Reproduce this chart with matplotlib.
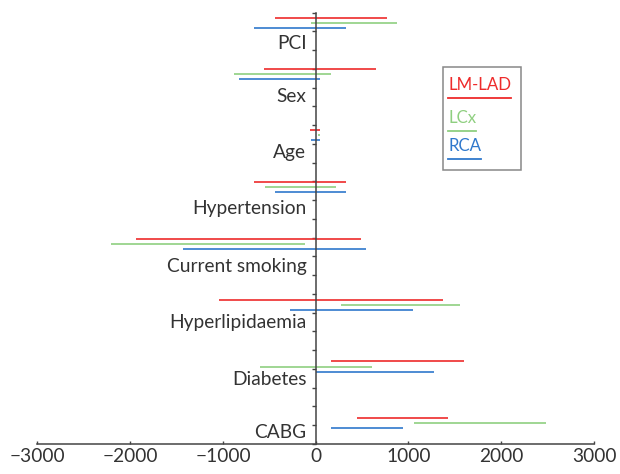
import matplotlib
matplotlib.use('Agg')
import matplotlib.pyplot as plt
from matplotlib.patches import Rectangle
from matplotlib.lines import Line2D

plt.rcParams['font.family'] = ['Lato', 'DejaVu Sans']

# data
categories = ['PCI', 'Sex', 'Age', 'Hypertension', 'Current smoking',
              'Hyperlipidaemia', 'Diabetes', 'CABG']
lm_lad_low = [-440, -560, -65, -665, -1940, -1040, 170, 450]
lm_lad_high = [770, 650, 45, 330, 485, 1375, 1600, 1430]
lcx_low = [-55, -885, 20, -550, -2210, 275, -600, 1060]
lcx_high = [880, 160, 45, 215, -120, 1555, 605, 2485]
rca_low = [-665, -825, -55, -440, -1435, -275, 5, 170]
rca_high = [325, 45, 45, 330, 545, 1050, 1270, 940]
series = ['LM-LAD', 'LCx', 'RCA']

# layout
row_y = [22.46, 19.73, 16.46, 13.70, 10.68, 7.40, 4.13, 1.10]
label_y = [21.38, 18.54, 15.55, 12.56, 9.47, 6.48, 3.44, 0.60]
gap = 0.27
colors = ['#ee2b2b', '#8fcf80', '#2f78cc']
txt_col = '#333333'

fig = plt.figure(figsize=(6.2, 4.74), dpi=100)
ax = fig.add_axes([0.0602, 0.0633, 0.898, 0.910])

lows = [lm_lad_low, lcx_low, rca_low]
highs = [lm_lad_high, lcx_high, rca_high]
for k in range(3):
    ys = [y + gap * (1 - k) for y in row_y]
    ax.hlines(ys, lows[k], highs[k], colors=colors[k], lw=1.2)

for name, y in zip(categories, label_y):
    ax.text(-100, y, name, ha='right', va='center', fontsize=13.8, color=txt_col)

ax.set_xlim(-3000, 3000)
ax.set_ylim(0, 23)
ax.spines['left'].set_position(('data', 0))
ax.spines['right'].set_visible(False)
ax.spines['top'].set_visible(False)
for s in ['left', 'bottom']:
    ax.spines[s].set_color('#444444')
    ax.spines[s].set_linewidth(1.1)
ax.set_xticks([-3000, -2000, -1000, 0, 1000, 2000, 3000])
ax.set_yticks(range(0, 24))
ax.set_yticklabels([])
ax.tick_params(axis='y', direction='out', length=3, width=1, color='#444444')
ax.tick_params(axis='x', direction='in', length=2.5, width=1, color='#444444',
               labelsize=13.8, labelcolor=txt_col, pad=3)
ax.set_xticklabels(['\u22123000', '\u22122000', '\u22121000', '0', '1000', '2000', '3000'])

# legend box drawn by hand
W, H = 620, 474
box = Rectangle((442.7 / W, 1 - 170 / H), (520.7 - 442.7) / W, (170 - 67.3) / H,
                transform=fig.transFigure, fill=False, edgecolor='#888888', lw=1.1)
fig.add_artist(box)
leg_y = [85.5, 118, 146]
under_y = [97.7, 130.7, 159.3]
texts = []
for name, c, y in zip(series, colors, leg_y):
    t = fig.text(448 / W, 1 - y / H, name, color=c, fontsize=12.2, ha='left', va='center')
    texts.append(t)
fig.canvas.draw()
r = fig.canvas.get_renderer()
for t, c, uy in zip(texts, colors, under_y):
    bb = t.get_window_extent(r)
    fig.add_artist(Line2D([bb.x0 / W, bb.x1 / W], [1 - uy / H, 1 - uy / H],
                          transform=fig.transFigure, color=c, lw=1.3))

fig.savefig('out.png', dpi=100)
